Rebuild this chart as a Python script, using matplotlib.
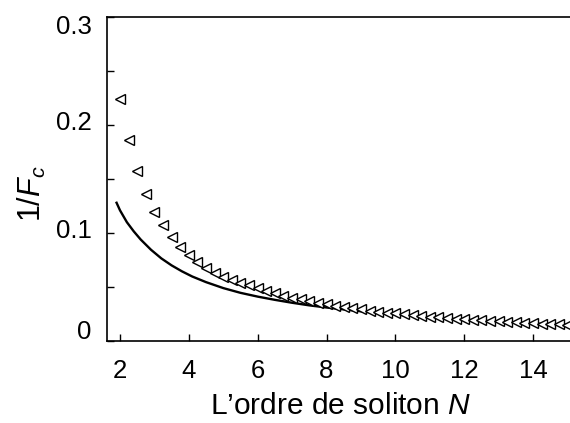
import matplotlib
matplotlib.use("Agg")
import matplotlib.pyplot as plt
import matplotlib.transforms as mtransforms
from matplotlib.ticker import MultipleLocator

plt.rcParams['font.family'] = ['Liberation Sans', 'DejaVu Sans']
plt.rcParams['mathtext.fontset'] = 'custom'
plt.rcParams['mathtext.rm'] = 'Liberation Sans'
plt.rcParams['mathtext.it'] = 'Liberation Sans:italic'

# Marker series (triangles)
n_markers = [2.00, 2.25, 2.50, 2.75, 3.00, 3.25, 3.50, 3.75, 4.00, 4.25,
             4.50, 4.75, 5.00, 5.25, 5.50, 5.75, 6.00, 6.25, 6.50, 6.75,
             7.00, 7.25, 7.50, 7.75, 8.00, 8.25, 8.50, 8.75, 9.00, 9.25,
             9.50, 9.75, 10.00, 10.25, 10.50, 10.75, 11.00, 11.25, 11.50, 11.75,
             12.00, 12.25, 12.50, 12.75, 13.00, 13.25, 13.50, 13.75, 14.00, 14.25,
             14.50, 14.75, 15.00]
inv_fc_markers = [0.224, 0.186, 0.157, 0.136, 0.119, 0.107, 0.096, 0.087, 0.080, 0.0735,
                  0.068, 0.0633, 0.0596, 0.0565, 0.054, 0.0515, 0.049, 0.0466, 0.0443, 0.0421,
                  0.0402, 0.0385, 0.0369, 0.0354, 0.034, 0.0327, 0.0315, 0.0303, 0.0292, 0.0282,
                  0.0272, 0.0263, 0.0255, 0.0247, 0.0239, 0.0232, 0.0225, 0.0219, 0.0213, 0.0207,
                  0.0201, 0.0196, 0.0191, 0.0186, 0.0181, 0.0177, 0.0172, 0.0168, 0.0164, 0.016,
                  0.0157, 0.0153, 0.015]

# Solid curve
n_line = [1.9, 2.0, 2.2, 2.4, 2.6, 2.9, 3.2, 3.5, 3.8, 4.1, 4.5, 5.0, 5.5, 6.0,
          6.5, 7.0, 7.5, 8.0, 9.0, 10.0, 11.0, 12.0, 13.0, 14.0, 15.0]
inv_fc_line = [0.128, 0.121, 0.110, 0.1015, 0.094, 0.0845, 0.0765, 0.070, 0.0645, 0.0597,
               0.0545, 0.049, 0.0446, 0.0411, 0.0381, 0.0354, 0.033, 0.031, 0.0275, 0.0245,
               0.022, 0.0198, 0.0179, 0.0163, 0.0149]

x_ticks = [2, 4, 6, 8, 10, 12, 14]
y_ticks = [0, 0.1, 0.2, 0.3]
y_tick_labels = ['0', '0.1', '0.2', '0.3']

fig = plt.figure(figsize=(5.70, 4.23), dpi=100)
ax = fig.add_axes([107/570, (423-341)/423, (575-107)/570, (341-17)/423])

ax.plot(n_line, inv_fc_line, color='black', lw=1.7, zorder=2)
ax.plot(n_markers, inv_fc_markers, linestyle='none', marker='<', markersize=7.8,
        markerfacecolor='white', markeredgecolor='black', markeredgewidth=1.0, zorder=3)

ax.set_xlim(2 - 13/34.42, 2 + (575-120)/34.42)
ax.set_ylim(0, 0.3)
ax.set_xticks(x_ticks)
ax.set_yticks(y_ticks)
ax.set_yticklabels(y_tick_labels)
ax.yaxis.set_minor_locator(MultipleLocator(0.05))
ax.tick_params(axis='both', which='both', direction='in', length=5, width=1,
               labelsize=18.5, top=False, right=False)
ax.tick_params(axis='y', pad=11)
ax.tick_params(axis='x', pad=13)
for s in ax.spines.values():
    s.set_linewidth(1.2)

# nudge end labels inward as in the reference
ylabels = ax.get_yticklabels()
ylabels[0].set_transform(ylabels[0].get_transform() +
                         mtransforms.ScaledTranslation(0, 12/100, fig.dpi_scale_trans))
ylabels[-1].set_transform(ylabels[-1].get_transform() +
                          mtransforms.ScaledTranslation(0, -7/100, fig.dpi_scale_trans))
for lab in ylabels[1:-1]:
    lab.set_transform(lab.get_transform() +
                      mtransforms.ScaledTranslation(0, 4/100, fig.dpi_scale_trans))

ax.set_xlabel('L\u2019ordre de soliton $N$', fontsize=21.5, labelpad=6.5)
ax.set_ylabel('1/$F_c$', fontsize=22)
ax.yaxis.set_label_coords(-0.125, 0.455)

fig.savefig('out.png', dpi=100)
